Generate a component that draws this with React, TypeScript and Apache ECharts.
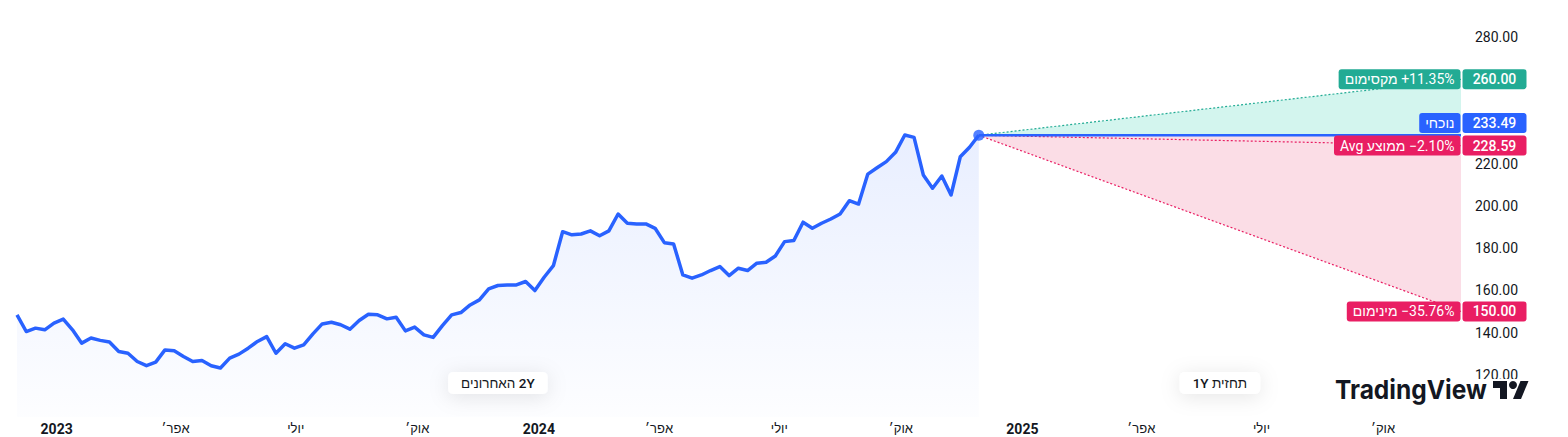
import React, { useEffect, useRef } from "react";
import * as echarts from "echarts";

// ---------- data ----------
const FIRST_WEEK = Date.UTC(2022, 11, 2);
const FORECAST_END = Date.UTC(2025, 10, 29);
const WEEK_MS = 7 * 86400000;

const weeklyCloses: number[] = [
  148.4, 140.5, 142.1, 141.3, 144.5, 146.4, 141.3, 135.0, 137.4, 136.3, 135.5, 131.0, 130.2, 126.3,
  124.3, 126.0, 131.8, 131.4, 128.7, 126.3, 126.8, 124.3, 123.2, 127.9, 129.8, 132.6, 135.8,
  138.1, 130.2, 134.7, 132.6, 134.2, 139.4, 144.1, 144.9, 143.7, 141.6, 145.7, 148.7, 148.4,
  146.5, 147.3, 140.8, 142.6, 138.9, 137.7, 143.3, 148.4, 149.5, 153.1, 155.5, 160.7, 162.3,
  162.6, 162.6, 164.2, 159.9, 166.2, 171.7, 187.8, 186.3, 186.7, 188.2, 185.9, 188.2, 196.2,
  191.8, 191.5, 191.5, 189.4, 182.6, 182.0, 167.3, 165.8, 167.3, 169.4, 171.3, 167.0, 170.5,
  169.4, 172.9, 173.3, 176.3, 183.1, 183.6, 192.3, 189.4, 191.8, 193.8, 196.2, 202.5, 200.9,
  215.1, 218.1, 221.0, 225.4, 233.6, 232.5, 214.7, 208.4, 214.2, 205.2, 223.3, 227.8, 233.49,
];
const currentPrice = 233.49;
const targetHigh = 260;
const targetAvg = 228.59;
const targetLow = 150;

const yMin = 100;
const yMax = 290;
const yStep = 20;
const yLabelMin = 120;
const yLabelMax = 280;

const tickYears = [2023, 2024, 2025];
const tickMonths = [0, 3, 6, 9];
const monthLabels: Record<number, string> = { 3: "אפר׳", 6: "יולי", 9: "אוק׳" };

const textHistory = "האחרונים \u200E2Y";
const textForecast = "1Y תחזית";
const textHigh = "מקסימום";
const textAvg = "Avg ממוצע";
const textLow = "מינימום";
const textCurrent = "נוכחי";
const textBrand = "TradingView";

// ---------- styles ----------
const FONT = "Roboto, 'Liberation Sans', 'DejaVu Sans', sans-serif";
const BLUE = "#2962ff";
const GREEN = "#22ab94";
const PINK = "#e91e63";
const INK = "#131722";

function pct(v: number) {
  const p = (v / currentPrice - 1) * 100;
  return (p >= 0 ? "+" : "\u2212") + Math.abs(p).toFixed(2) + "%";
}

export default function App() {
  const ref = useRef<HTMLDivElement>(null);

  useEffect(() => {
    const el = ref.current!;
    const chart = echarts.init(el, null, { renderer: "svg" });

    const times = weeklyCloses.map((_, i) => FIRST_WEEK + i * WEEK_MS);
    const tFirst = times[0];
    const tLast = times[times.length - 1];
    const hist = weeklyCloses.map((v, i) => [times[i], v]);

    const tickValues: number[] = [];
    tickYears.forEach((y) => tickMonths.forEach((m) => tickValues.push(Date.UTC(y, m, 1))));

    const dotted = [2, 2];

    chart.setOption({
      animation: false,
      backgroundColor: "#ffffff",
      grid: { left: 17, right: 107, top: 16, bottom: 20, containLabel: false, outerBoundsMode: "none" },
      xAxis: {
        type: "value",
        min: FIRST_WEEK,
        max: FORECAST_END,
        splitLine: { show: false },
        axisLine: { show: false },
        axisTick: { show: false },
        axisLabel: {
          customValues: tickValues,
          color: INK,
          fontSize: 13,
          fontFamily: FONT,
          margin: 5,
          formatter: (v: number) => {
            const d = new Date(v);
            const m = d.getUTCMonth();
            return m === 0 ? `{y|${d.getUTCFullYear()}}` : monthLabels[m];
          },
          rich: { y: { fontWeight: "bold", fontSize: 14, color: INK, fontFamily: FONT } },
        },
      },
      yAxis: {
        type: "value",
        position: "right",
        min: yMin,
        max: yMax,
        interval: yStep,
        splitLine: { show: false },
        axisLine: { show: false },
        axisTick: { show: false },
        axisLabel: {
          color: INK,
          fontSize: 14,
          fontFamily: FONT,
          margin: 14,
          align: "left",
          formatter: (v: number) => (v >= yLabelMin && v <= yLabelMax ? v.toFixed(2) : ""),
        },
      },
      series: [
        {
          type: "line",
          data: hist,
          showSymbol: false,
          silent: true,
          z: 3,
          lineStyle: { color: BLUE, width: 3.5, join: "round" },
          areaStyle: {
            origin: "start",
            color: new echarts.graphic.LinearGradient(0, 0, 0, 1, [
              { offset: 0, color: "rgba(41,98,255,0.15)" },
              { offset: 1, color: "rgba(41,98,255,0.015)" },
            ]),
          },
        },
        {
          type: "line",
          data: [[tLast, currentPrice], [FORECAST_END, targetHigh]],
          showSymbol: false,
          silent: true,
          z: 2,
          lineStyle: { color: GREEN, width: 1.2, type: dotted },
          areaStyle: { origin: currentPrice, color: "#d3f5ee", opacity: 1 },
        },
        {
          type: "line",
          data: [[tLast, currentPrice], [FORECAST_END, targetLow]],
          showSymbol: false,
          silent: true,
          z: 2,
          lineStyle: { color: PINK, width: 1.2, type: dotted },
          areaStyle: { origin: currentPrice, color: "#fbdde6", opacity: 1 },
        },
        {
          type: "line",
          data: [[tLast, currentPrice], [FORECAST_END, targetAvg]],
          showSymbol: false,
          silent: true,
          z: 3,
          lineStyle: { color: PINK, width: 1.2, type: dotted },
        },
        {
          type: "line",
          data: [[tLast, currentPrice], [FORECAST_END, currentPrice]],
          showSymbol: false,
          silent: true,
          z: 4,
          lineStyle: { color: BLUE, width: 2.5 },
        },
        {
          type: "scatter",
          data: [[tLast, currentPrice]],
          symbolSize: 11,
          silent: true,
          z: 5,
          itemStyle: { color: BLUE },
        },
      ],
    });

    // ---------- overlays positioned through the chart's own scales ----------
    const px = (t: number, v: number) => chart.convertToPixel({ gridIndex: 0 }, [t, v]) as number[];
    const xR = px(FORECAST_END, currentPrice)[0];
    const xL = px(tLast, currentPrice)[0];
    const x0 = px(tFirst, currentPrice)[0];
    const yBottom = px(tLast, yMin)[1];

    const canvas = document.createElement("canvas");
    const ctx = canvas.getContext("2d")!;
    const measure = (text: string, font: string) => {
      ctx.font = font;
      return ctx.measureText(text).width;
    };

    const badges = [
      { v: targetHigh, color: GREEN, left: `${textHigh} \u200E${pct(targetHigh)}` },
      { v: currentPrice, color: BLUE, left: textCurrent },
      { v: targetAvg, color: PINK, left: `${textAvg} \u200E${pct(targetAvg)}` },
      { v: targetLow, color: PINK, left: `${textLow} \u200E${pct(targetLow)}` },
    ].map((b) => ({ ...b, y: px(FORECAST_END, b.v)[1] }));
    const sorted = [...badges].sort((a, b) => b.y - a.y);
    for (let i = 1; i < sorted.length; i++) {
      if (sorted[i - 1].y - sorted[i].y < 22.5) sorted[i].y = sorted[i - 1].y - 22.5;
    }

    const graphics: any[] = [];
    const BH = 20;
    badges.forEach((b) => {
      graphics.push({
        type: "rect",
        z: 100,
        shape: { x: xR + 1.5, y: b.y - BH / 2, width: 64, height: BH, r: 3 },
        style: { fill: b.color },
      });
      graphics.push({
        type: "text",
        z: 101,
        x: xR + 1.5 + 32,
        y: b.y,
        style: {
          text: b.v.toFixed(2),
          fill: "#ffffff",
          font: `500 14px ${FONT}`,
          align: "center",
          verticalAlign: "middle",
        },
      });
      const lf = `14px ${FONT}`;
      const w = measure(b.left, lf) + 12;
      graphics.push({
        type: "rect",
        z: 100,
        shape: { x: xR - 0.5 - w, y: b.y - BH / 2, width: w, height: BH, r: 3 },
        style: { fill: b.color },
      });
      graphics.push({
        type: "text",
        z: 101,
        x: xR - 0.5 - w / 2,
        y: b.y,
        style: { text: b.left, fill: "#ffffff", font: lf, align: "center", verticalAlign: "middle" },
      });
    });

    const pill = (text: string, cx: number) => {
      const f = `500 13.5px ${FONT}`;
      const w = measure(text, f) + 26;
      const cy = yBottom - 34;
      graphics.push({
        type: "rect",
        z: 90,
        shape: { x: cx - w / 2, y: cy - 11, width: w, height: 22, r: 5 },
        style: { fill: "#ffffff", shadowBlur: 20, shadowColor: "rgba(0,0,0,0.10)", shadowOffsetY: 3 },
      });
      graphics.push({
        type: "text",
        z: 91,
        x: cx,
        y: cy,
        style: { text, fill: INK, font: f, align: "center", verticalAlign: "middle" },
      });
    };
    pill(textHistory, (x0 + xL) / 2);
    pill(textForecast, (xL + xR) / 2);

    // TradingView watermark
    const brandFont = `700 26px Inter, ${FONT}`;
    const brandW = measure(textBrand, brandFont);
    const brandX = 1335;
    graphics.push({
      type: "rect",
      z: 95,
      shape: { x: 1330, y: 379, width: 205, height: 28 },
      style: { fill: "#ffffff" },
    });
    graphics.push({
      type: "text",
      z: 96,
      x: brandX,
      y: 390,
      scaleX: 152 / brandW,
      style: { text: textBrand, fill: INK, font: brandFont, align: "left", verticalAlign: "middle" },
    });
    graphics.push({
      type: "group",
      z: 96,
      x: 1493,
      y: 377,
      children: [
        {
          type: "polygon",
          z: 96,
          shape: { points: [[14, 22], [7, 22], [7, 11], [0, 11], [0, 4], [14, 4]] },
          style: { fill: INK },
        },
        {
          type: "polygon",
          z: 96,
          shape: { points: [[28, 22], [20, 22], [27.5, 4], [35.5, 4]] },
          style: { fill: INK },
        },
        { type: "circle", z: 96, shape: { cx: 20, cy: 8, r: 4 }, style: { fill: INK } },
      ],
    });

    chart.setOption({ graphic: graphics });

    return () => chart.dispose();
  }, []);

  return (
    <div
      ref={ref}
      style={{ position: "fixed", left: 0, top: 0, width: 1568, height: 437, background: "#fff" }}
    />
  );
}
